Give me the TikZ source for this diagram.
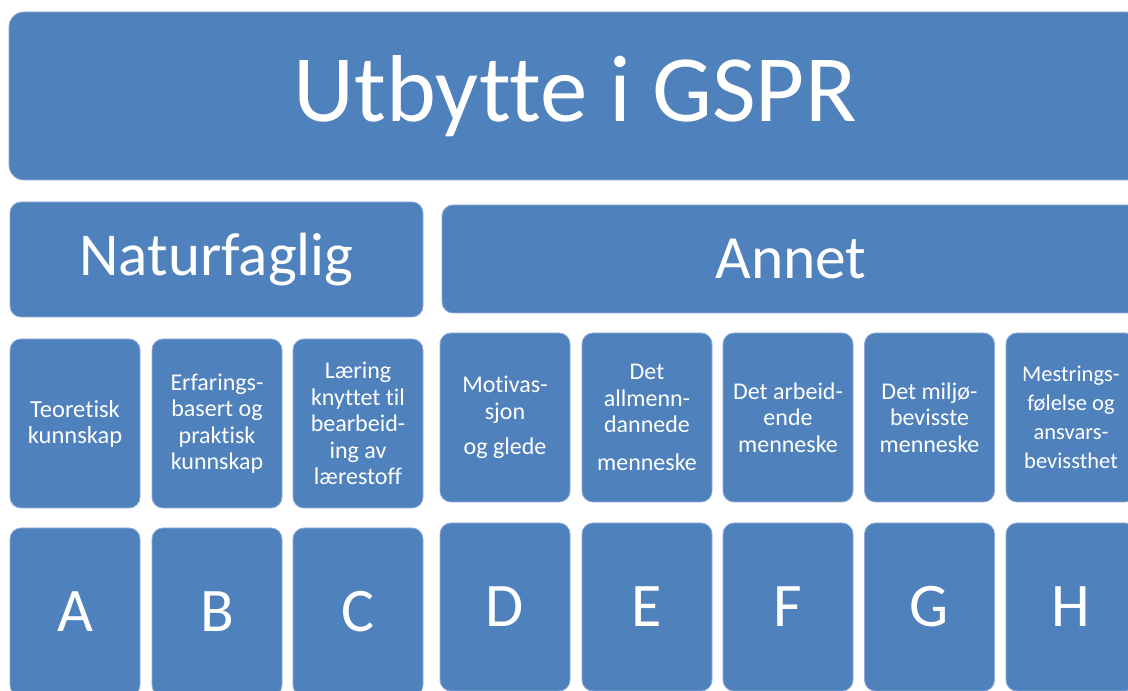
\documentclass[tikz,border=0pt]{standalone}
\usepackage{fontspec}
\setmainfont{Carlito}[Ligatures=NoCommon]
\definecolor{boxblue}{HTML}{4F81BD}
\definecolor{boxedge}{HTML}{8EAAD6}
\tikzset{
  box/.style={draw=boxedge, line width=0.8pt, fill=boxblue, rounded corners=11pt, text=white, inner sep=0pt, align=center},
  small/.style={box, minimum width=130pt, minimum height=169pt, font=\fontsize{24}{26.5}\selectfont},
  letter/.style={box, minimum width=130pt, minimum height=168pt, font=\fontsize{62}{70}\selectfont},
}
\begin{document}
\begin{tikzpicture}[x=1pt,y=1pt]
\useasboundingbox (0,0) rectangle (1128,691);
\clip (0,0) rectangle (1128,691);
\node[box, rounded corners=15pt, minimum width=1132pt, minimum height=168pt, font=\fontsize{95}{105}\selectfont] (title) at (575,595) {\raisebox{-4pt}{Utbytte i GSPR}};
\node[box, minimum width=413pt, minimum height=115pt, font=\fontsize{61}{70}\selectfont] (natur) at (216.5,431.5) {\raisebox{-2pt}{Naturfaglig}};
\node[box, minimum width=698pt, minimum height=108pt, font=\fontsize{61.5}{70}\selectfont] (annet) at (791,432) {Annet};
% row 3
\node[small, font=\fontsize{24.5}{26}\selectfont] (t1) at (75,267.5) {Teoretisk\\kunnskap};
\node[small] (t2) at (217,267.5) {Erfarings-\\basert og\\praktisk\\kunnskap};
\node[small] (t3) at (358,267.5) {Læring\\knyttet til\\bearbeid-\\ing av\\lærestoff};
\node[small] (t4) at (505,273.5) {Motivas-\\sjon\\[9pt]og glede};
\node[small] (t5) at (647,273.5) {Det\\allmenn-\\dannede\\[11pt]menneske};
\node[small] (t6) at (788,273.5) {Det arbeid-\\ende\\menneske};
\node[small] (t7) at (929.5,273.5) {Det miljø-\\bevisste\\menneske};
\node[small, font=\fontsize{22.5}{29}\selectfont] (t8) at (1071,273.5) {Mestrings-\\følelse og\\ansvars-\\bevissthet};
% row 4
\node[letter] (a) at (75,79) {A};
\node[letter] (b) at (217,79) {B};
\node[letter] (c) at (358,79) {C};
\node[letter] (d) at (505,84) {D};
\node[letter] (e) at (647,84) {E};
\node[letter] (f) at (788,84) {F};
\node[letter] (g) at (929.5,84) {G};
\node[letter] (h) at (1071,84) {H};
\end{tikzpicture}
\end{document}
